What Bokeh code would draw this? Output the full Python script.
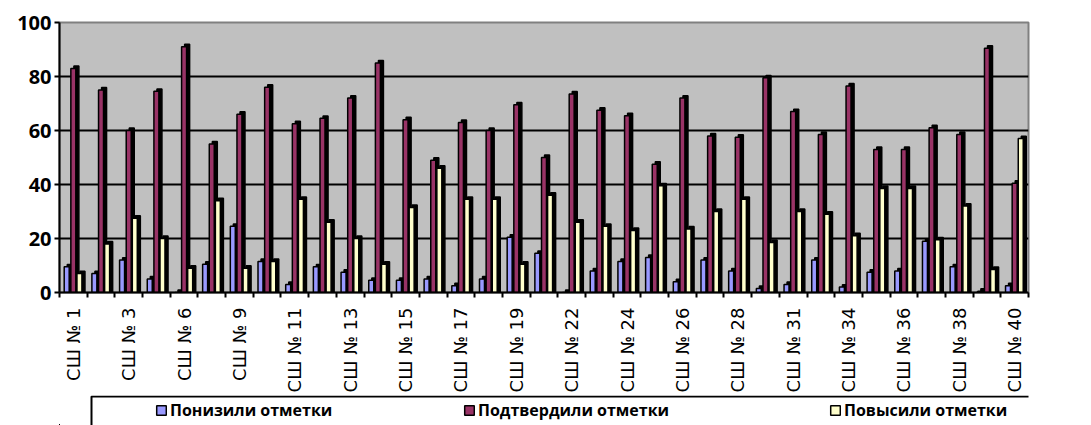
from math import pi
from bokeh.plotting import figure
from bokeh.layouts import column
from bokeh.models import (ColumnDataSource, FixedTicker, Legend, LegendItem,
                          Range1d, BoxAnnotation)
from bokeh.transform import dodge
from bokeh.embed import file_html
from bokeh.resources import INLINE

# ---- data -------------------------------------------------------------
schools = ["СШ № 1", "СШ № 2", "СШ № 3", "СШ № 5", "СШ № 6", "СШ № 8", "СШ № 9",
           "СШ № 10", "СШ № 11", "СШ № 12", "СШ № 13", "СШ № 14", "СШ № 15",
           "СШ № 16", "СШ № 17", "СШ № 18", "СШ № 19", "СШ № 21", "СШ № 22",
           "СШ № 23", "СШ № 24", "СШ № 25", "СШ № 26", "СШ № 27", "СШ № 28",
           "СШ № 30", "СШ № 31", "СШ № 33", "СШ № 34", "СШ № 35", "СШ № 36",
           "СШ № 37", "СШ № 38", "СШ № 39", "СШ № 40"]
lowered = [9.5, 7, 12, 5, 0, 10.5, 24.5, 11.5, 3, 9.5, 7.5, 4.5, 4.5, 5, 2.5, 5,
           20.5, 14.5, 0, 8, 11.5, 13, 4, 12, 8, 1.5, 3, 12, 2, 7.5, 8, 19, 9.5,
           0.5, 2.5]
confirmed = [83, 75, 60, 74.5, 91, 55, 66, 76, 62.5, 64.5, 72, 85, 64, 49, 63, 60,
             69.5, 50, 73.5, 67.5, 65.5, 47.5, 72, 58, 57.5, 79.5, 67, 58.5, 76.5,
             53, 53, 61, 58.5, 90.5, 40.5]
raised = [7, 18, 27.5, 20, 9, 34, 9, 11.5, 34.5, 26, 20, 10.5, 31.5, 46, 34.5, 34.5,
          10.5, 36, 26, 24.5, 23, 39.5, 23.5, 30, 34.5, 18.5, 30, 29, 21, 38.5,
          38.5, 19.5, 32, 8.5, 57]
series_names = ["Понизили отметки", "Подтвердили отметки", "Повысили отметки"]
series_colors = ["#9999FF", "#993366", "#FFFFCC"]
y_ticks = [0, 20, 40, 60, 80, 100]

# ---- source -----------------------------------------------------------
DEPTH = 0.9  # 3-D cap height in data units
idx = list(range(len(schools)))
src = ColumnDataSource(dict(
    x=idx,
    s0=lowered, s1=confirmed, s2=raised,
    d0=[v + DEPTH for v in lowered],
    d1=[v + DEPTH for v in confirmed],
    d2=[v + DEPTH for v in raised],
))

BORDER_L, BORDER_R = 59, 63

p = figure(width=1091, height=395, output_backend="svg", toolbar_location=None,
           x_range=Range1d(-0.5, len(schools) - 0.5), y_range=Range1d(0, 100),
           min_border_left=BORDER_L, min_border_right=BORDER_R, min_border_top=22,
           min_border_bottom=103)

p.background_fill_color = "#C0C0C0"
p.border_fill_color = "white"
p.outline_line_color = "#808080"
p.outline_line_width = 2

offsets = [-0.24, 0.0, 0.22]
BAR_W = 0.18
SHIFT = 0.11
for k in range(3):
    p.vbar(x=dodge("x", offsets[k] + SHIFT, range=p.x_range), top="d%d" % k,
           bottom=0, width=BAR_W, source=src, fill_color="black",
           line_color="black", line_width=1.5)
    p.vbar(x=dodge("x", offsets[k], range=p.x_range), top="s%d" % k,
           bottom=0, width=BAR_W, source=src, fill_color=series_colors[k],
           line_color="black", line_width=1.5)

# ---- axes -------------------------------------------------------------
p.xgrid.visible = False
p.ygrid.ticker = FixedTicker(ticks=y_ticks)
p.ygrid.grid_line_color = "black"
p.ygrid.grid_line_width = 2

p.yaxis.ticker = FixedTicker(ticks=y_ticks)
p.yaxis.axis_line_color = "black"
p.yaxis.axis_line_width = 2
p.yaxis.major_tick_out = 5
p.yaxis.major_tick_in = 0
p.yaxis.major_tick_line_width = 2
p.yaxis.minor_tick_line_color = None
p.yaxis.major_label_text_font = "Open Sans"
p.yaxis.major_label_text_font_style = "bold"
p.yaxis.major_label_text_font_size = "20px"
p.yaxis.major_label_text_color = "black"
p.yaxis.major_label_standoff = 3

labeled = idx[::2]
p.xaxis.ticker = FixedTicker(ticks=labeled,
                             minor_ticks=[i - 0.5 for i in range(len(schools) + 1)])
p.xaxis.major_label_overrides = {i: schools[i] for i in labeled}
p.xaxis.major_label_orientation = pi / 2
p.xaxis.axis_line_color = "black"
p.xaxis.axis_line_width = 2
p.xaxis.major_tick_out = 0
p.xaxis.major_tick_in = 0
p.xaxis.minor_tick_out = 5
p.xaxis.minor_tick_in = 0
p.xaxis.minor_tick_line_width = 2
p.xaxis.minor_tick_line_color = "black"
p.xaxis.major_label_text_font = "DejaVu Sans"
p.xaxis.major_label_text_font_size = "18px"
p.xaxis.major_label_text_color = "black"
p.xaxis.major_label_standoff = 10

# ---- legend strip (same borders as the chart, box drawn in screen units) --
lg = figure(width=1091, height=30, output_backend="svg", toolbar_location=None,
            x_range=Range1d(1000, 1001), y_range=Range1d(1000, 1001),
            min_border_left=BORDER_L, min_border_right=BORDER_R,
            min_border_top=0, min_border_bottom=0)
lg.background_fill_color = "white"
lg.border_fill_color = "white"
lg.outline_line_color = None
lg.xaxis.visible = False
lg.yaxis.visible = False
lg.xgrid.visible = False
lg.ygrid.visible = False

box = BoxAnnotation(left=32, right=3000, top=29, bottom=-100,
                    left_units="screen", right_units="screen",
                    top_units="screen", bottom_units="screen",
                    fill_alpha=0, line_color="black", line_alpha=1.0,
                    line_width=2)
lg.add_layout(box)

keys = []
for k in range(3):
    keys.append(lg.vbar(x="x", top="s%d" % k, bottom=0, width=BAR_W, source=src,
                        fill_color=series_colors[k], line_color="black",
                        line_width=1.5))

for name, r, vx in zip(series_names, keys, [96, 404, 770]):
    leg = Legend(items=[LegendItem(label=name, renderers=[r])],
                 location=(vx, 4), orientation="horizontal",
                 padding=0, margin=0, spacing=0,
                 glyph_width=12, glyph_height=12, label_standoff=3,
                 label_height=12,
                 label_text_font="Open Sans", label_text_font_style="bold",
                 label_text_font_size="16px", label_text_color="black",
                 border_line_alpha=0, background_fill_alpha=0)
    lg.add_layout(leg, "center")

layout = column(p, lg, spacing=0)
open("out.html", "w").write(file_html(layout, INLINE))
